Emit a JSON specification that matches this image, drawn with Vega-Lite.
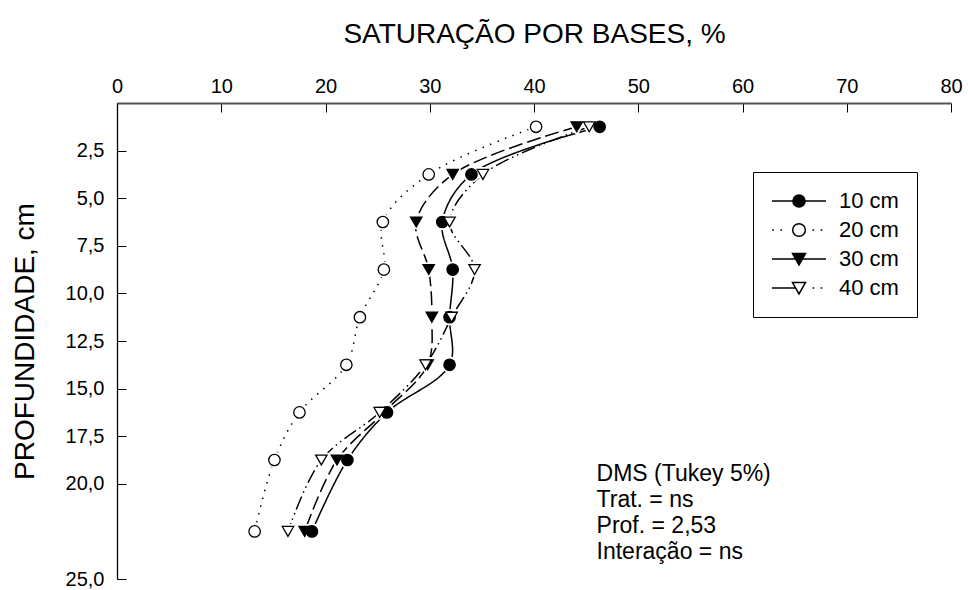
{
  "$schema": "https://vega.github.io/schema/vega-lite/v6.json",
  "width": 834,
  "height": 476,
  "autosize": {"type": "none"},
  "padding": {"left": 117, "top": 103, "right": 17, "bottom": 11},
  "background": "white",
  "config": {
    "view": {"stroke": null},
    "font": "Liberation Sans",
    "axis": {
      "grid": false,
      "labelFont": "Liberation Sans",
      "titleFont": "Liberation Sans",
      "labelColor": "black",
      "titleColor": "black",
      "titleFontWeight": "normal",
      "tickColor": "black",
      "domainColor": "black"
    }
  },
  "data": {
    "values": [
      {"serie": "10 cm", "depth": 1.25, "value": 46.3},
      {"serie": "10 cm", "depth": 3.75, "value": 34.0},
      {"serie": "10 cm", "depth": 6.25, "value": 31.2},
      {"serie": "10 cm", "depth": 8.75, "value": 32.2},
      {"serie": "10 cm", "depth": 11.25, "value": 31.9},
      {"serie": "10 cm", "depth": 13.75, "value": 31.9},
      {"serie": "10 cm", "depth": 16.25, "value": 25.9},
      {"serie": "10 cm", "depth": 18.75, "value": 22.1},
      {"serie": "10 cm", "depth": 22.5, "value": 18.7},
      {"serie": "20 cm", "depth": 1.25, "value": 40.2},
      {"serie": "20 cm", "depth": 3.75, "value": 29.9},
      {"serie": "20 cm", "depth": 6.25, "value": 25.5},
      {"serie": "20 cm", "depth": 8.75, "value": 25.6},
      {"serie": "20 cm", "depth": 11.25, "value": 23.3},
      {"serie": "20 cm", "depth": 13.75, "value": 22.0},
      {"serie": "20 cm", "depth": 16.25, "value": 17.5},
      {"serie": "20 cm", "depth": 18.75, "value": 15.1},
      {"serie": "20 cm", "depth": 22.5, "value": 13.2},
      {"serie": "30 cm", "depth": 1.25, "value": 44.1},
      {"serie": "30 cm", "depth": 3.75, "value": 32.2},
      {"serie": "30 cm", "depth": 6.25, "value": 28.7},
      {"serie": "30 cm", "depth": 8.75, "value": 29.9},
      {"serie": "30 cm", "depth": 11.25, "value": 30.2},
      {"serie": "30 cm", "depth": 13.75, "value": 29.8},
      {"serie": "30 cm", "depth": 16.25, "value": 25.6},
      {"serie": "30 cm", "depth": 18.75, "value": 21.1},
      {"serie": "30 cm", "depth": 22.5, "value": 18.0},
      {"serie": "40 cm", "depth": 1.25, "value": 45.3},
      {"serie": "40 cm", "depth": 3.75, "value": 35.1},
      {"serie": "40 cm", "depth": 6.25, "value": 31.9},
      {"serie": "40 cm", "depth": 8.75, "value": 34.3},
      {"serie": "40 cm", "depth": 11.25, "value": 32.1},
      {"serie": "40 cm", "depth": 13.75, "value": 29.6},
      {"serie": "40 cm", "depth": 16.25, "value": 25.2},
      {"serie": "40 cm", "depth": 18.75, "value": 19.6},
      {"serie": "40 cm", "depth": 22.5, "value": 16.4}
    ]
  },
  "encoding": {
    "x": {
      "field": "value",
      "type": "quantitative",
      "scale": {"domain": [0, 80], "nice": false, "zero": false},
      "axis": {
        "orient": "top",
        "values": [0, 10, 20, 30, 40, 50, 60, 70, 80],
        "title": "SATURAÇÃO POR BASES, %",
        "titleFontSize": 28,
        "titleY": -61,
        "titleBaseline": "alphabetic",
        "labelFontSize": 20,
        "labelPadding": 16,
        "labelFlush": false,
        "labelOverlap": false,
        "tickSize": -9,
        "tickWidth": 1,
        "domainColor": "#555555",
        "domainWidth": 2
      }
    },
    "y": {
      "field": "depth",
      "type": "quantitative",
      "scale": {"domain": [0, 25], "reverse": true, "nice": false, "zero": false},
      "axis": {
        "values": [2.5, 5, 7.5, 10, 12.5, 15, 17.5, 20, 25],
        "labelExpr": "replace(format(datum.value, '.1f'), '.', ',')",
        "title": "PROFUNDIDADE, cm",
        "titleFontSize": 28,
        "titleX": -84,
        "titleY": 238,
        "titleAngle": -90,
        "titleAlign": "center",
        "titleBaseline": "alphabetic",
        "labelFontSize": 20,
        "labelPadding": 22,
        "labelOverlap": false,
        "tickSize": -9,
        "tickWidth": 1,
        "domainWidth": 1.3
      }
    }
  },
  "layer": [
    {
      "mark": {"type": "line", "interpolate": "catmull-rom", "color": "black", "strokeWidth": 1.5},
      "encoding": {
        "order": {"field": "depth", "type": "quantitative"},
        "strokeDash": {
          "field": "serie",
          "type": "nominal",
          "scale": {
            "domain": ["10 cm", "20 cm", "30 cm", "40 cm"],
            "range": [[1, 0], [1.5, 6.5], [14, 5], [14, 4, 1.5, 4, 1.5, 4]]
          },
          "legend": null
        }
      }
    },
    {
      "mark": {"type": "point", "filled": true, "color": "white", "stroke": "white", "strokeWidth": 5, "strokeJoin": "round", "opacity": 1},
      "encoding": {
        "shape": {
          "field": "serie",
          "type": "nominal",
          "scale": {"domain": ["10 cm", "20 cm", "30 cm", "40 cm"], "range": ["circle", "circle", "triangle-down", "triangle-down"]},
          "legend": null
        },
        "size": {
          "field": "serie",
          "type": "nominal",
          "scale": {"domain": ["10 cm", "20 cm", "30 cm", "40 cm"], "range": [130, 130, 190, 190]},
          "legend": null
        }
      }
    },
    {
      "mark": {"type": "point", "filled": true, "stroke": "black", "strokeWidth": 1.3, "opacity": 1},
      "encoding": {
        "shape": {
          "field": "serie",
          "type": "nominal",
          "scale": {"domain": ["10 cm", "20 cm", "30 cm", "40 cm"], "range": ["circle", "circle", "triangle-down", "triangle-down"]},
          "legend": null
        },
        "size": {
          "field": "serie",
          "type": "nominal",
          "scale": {"domain": ["10 cm", "20 cm", "30 cm", "40 cm"], "range": [130, 130, 190, 190]},
          "legend": null
        },
        "fill": {
          "field": "serie",
          "type": "nominal",
          "scale": {"domain": ["10 cm", "20 cm", "30 cm", "40 cm"], "range": ["black", "white", "black", "white"]},
          "legend": null
        }
      }
    },
    {
      "transform": [{"filter": "false"}],
      "mark": {"type": "point", "filled": false, "color": "black", "strokeWidth": 1.5},
      "encoding": {
        "shape": {
          "field": "serie",
          "type": "nominal",
          "scale": {
            "domain": ["10 cm", "20 cm", "30 cm", "40 cm"],
            "range": [
              "M-1,0H1M0.225,0A0.225,0.225,0,1,1,-0.225,0A0.225,0.225,0,1,1,0.225,0ZM0.175,0A0.175,0.175,0,1,1,-0.175,0A0.175,0.175,0,1,1,0.175,0ZM0.125,0A0.125,0.125,0,1,1,-0.125,0A0.125,0.125,0,1,1,0.125,0ZM0.075,0A0.075,0.075,0,1,1,-0.075,0A0.075,0.075,0,1,1,0.075,0ZM0.03,0A0.03,0.03,0,1,1,-0.03,0A0.03,0.03,0,1,1,0.03,0Z",
              "M-0.99,0h0.06M-0.69,0h0.06M0.5,0h0.06M0.8,0h0.06M0.235,0A0.235,0.235,0,1,1,-0.235,0A0.235,0.235,0,1,1,0.235,0Z",
              "M-1,0H1M-0.24,-0.2L0.24,-0.2L0,0.22ZM-0.18,-0.165L0.18,-0.165L0,0.15ZM-0.12,-0.13L0.12,-0.13L0,0.08ZM-0.06,-0.095L0.06,-0.095L0,0.01ZM-0.015,-0.07L0.015,-0.07L0,-0.045Z",
              "M-1,0H-0.12M0.5,0h0.06M0.8,0h0.06M-0.24,-0.2L0.24,-0.2L0,0.22Z"
            ]
          },
          "legend": {
            "title": null,
            "orient": "none",
            "legendX": 636,
            "legendY": 69,
            "symbolSize": 2916,
            "clipHeight": 22,
            "symbolStrokeColor": "black",
            "symbolStrokeWidth": 1.5,
            "symbolFillColor": "white",
            "symbolOpacity": 1,
            "labelFont": "Liberation Sans",
            "labelFontSize": 22,
            "labelColor": "black",
            "labelOffset": 12,
            "strokeColor": "black",
            "fillColor": "white",
            "padding": 18,
            "rowPadding": 7
          }
        }
      }
    },
    {
      "transform": [{"filter": "datum.serie == '10 cm' && datum.depth == 1.25"}],
      "mark": {
        "type": "text",
        "align": "left",
        "baseline": "alphabetic",
        "font": "Liberation Sans",
        "fontSize": 23,
        "lineHeight": 26,
        "color": "black",
        "text": ["DMS (Tukey 5%)", "Trat. = ns", "Prof. = 2,53", "Interação = ns"]
      },
      "encoding": {
        "x": {"datum": 46.0},
        "y": {"datum": 19.84}
      }
    }
  ],
  "resolve": {"scale": {"shape": "independent"}}
}
